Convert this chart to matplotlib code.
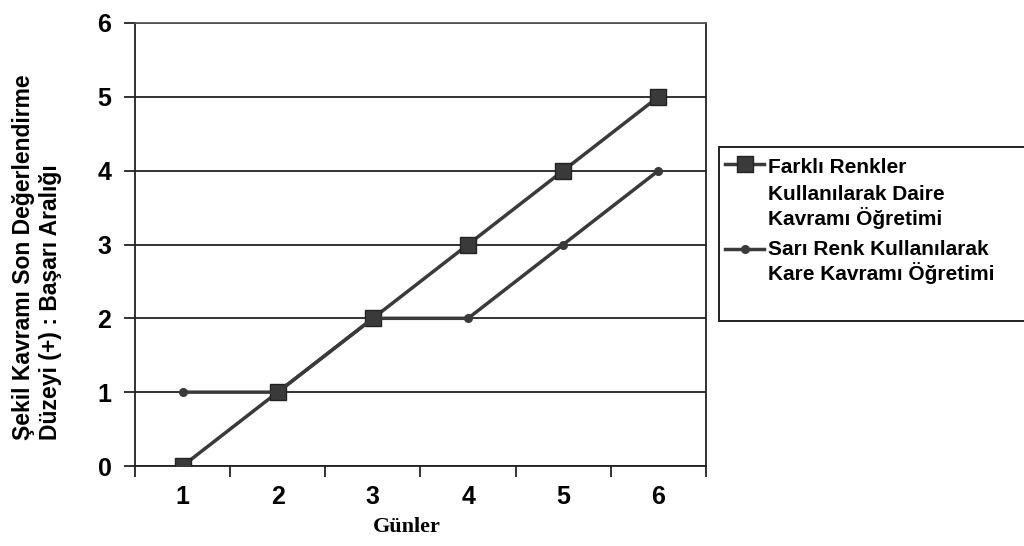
import matplotlib
matplotlib.use("Agg")
import matplotlib.pyplot as plt
from matplotlib.ticker import FixedLocator
from matplotlib.lines import Line2D
from matplotlib.patches import Rectangle

days = ["1", "2", "3", "4", "5", "6"]
daire = [0, 1, 2, 3, 4, 5]
kare = [1, 1, 2, 2, 3, 4]
y_ticks = [0, 1, 2, 3, 4, 5, 6]
label_daire = ["Farklı Renkler", "Kullanılarak Daire", "Kavramı Öğretimi"]
label_kare = ["Sarı Renk Kullanılarak", "Kare Kavramı Öğretimi"]

plt.rcParams['font.family'] = ['Liberation Sans', 'DejaVu Sans']

W, H = 1024, 546
fig = plt.figure(figsize=(10.24, 5.46), dpi=100)
left, right, bottom, top = 135, 706, 466, 23
ax = fig.add_axes([left / W, 1 - bottom / H, (right - left) / W, (bottom - top) / H])

x = list(range(len(days)))
line_col = '#3a3a3a'
ax.plot(x, daire, color=line_col, lw=2.5, marker='s', ms=11, mfc='#3a3a3a', mec='#222222', zorder=3)
ax.plot(x, kare, color=line_col, lw=2.5, marker='o', ms=5.5, mfc='#3a3a3a', mec='#3a3a3a', zorder=3)

ax.set_xlim(-0.5, len(days) - 0.5)
ax.set_ylim(0, 6)
ax.set_yticks(y_ticks)
ax.set_yticklabels([str(v) for v in y_ticks], fontsize=18, fontweight='bold')
ax.yaxis.grid(True, color='#222222', lw=1.3)
ax.set_axisbelow(True)

ax.set_xticks(x)
ax.set_xticklabels(days, fontsize=18, fontweight='bold')
ax.tick_params(axis='x', which='major', length=0, pad=14)
ax.xaxis.set_minor_locator(FixedLocator([i - 0.5 for i in range(0, len(days) + 1)]))
ax.tick_params(axis='x', which='minor', length=8, width=1.3, direction='out', color='#222222')
ax.tick_params(axis='y', which='major', length=8, width=1.3, direction='out', pad=9, color='#222222')

for s in ['top', 'right', 'left', 'bottom']:
    ax.spines[s].set_color('#222222')
    ax.spines[s].set_linewidth(1.3)
ax.spines['top'].set_color('#555555')

ax.set_xlabel("Günler", family=['Liberation Serif', 'DejaVu Serif'], fontsize=16, fontweight='bold')
ax.xaxis.set_label_coords((407 - left) / (right - left), -(527 - bottom) / (bottom - top))
ax.xaxis.label.set_va('center')

fig.text(37 / W, 1 - 440 / H, "Şekil Kavramı Son Değerlendirme\nDüzeyi (+) : Başarı Aralığı",
         rotation=90, ha='center', va='bottom', multialignment='left',
         fontsize=16.5, fontweight='bold', linespacing=1.2)

# legend (drawn by hand so the handles sit on the first line of each label)
fig.add_artist(Rectangle((719 / W, 1 - 321 / H), 0.4, (321 - 147) / H, transform=fig.transFigure,
                         fill=True, facecolor='white', edgecolor='#222222', lw=1.4))
fig.add_artist(Line2D([725 / W, 764 / W], [1 - 164 / H] * 2, transform=fig.transFigure,
                      color=line_col, lw=2.5))
fig.add_artist(Line2D([745 / W], [1 - 164 / H], transform=fig.transFigure, marker='s', ms=11,
                      mfc='#3a3a3a', mec='#222222', lw=0))
fig.add_artist(Line2D([725 / W, 764 / W], [1 - 249 / H] * 2, transform=fig.transFigure,
                      color=line_col, lw=2.5))
fig.add_artist(Line2D([745 / W], [1 - 249 / H], transform=fig.transFigure, marker='o', ms=5.5,
                      mfc='#3a3a3a', mec='#3a3a3a', lw=0))
for txt, yb in zip(label_daire, [173, 200, 225]):
    fig.text(768 / W, 1 - yb / H, txt, fontsize=15, fontweight='bold', va='baseline', ha='left')
for txt, yb in zip(label_kare, [255, 280]):
    fig.text(768 / W, 1 - yb / H, txt, fontsize=15, fontweight='bold', va='baseline', ha='left')

fig.savefig("out.png", dpi=100)
